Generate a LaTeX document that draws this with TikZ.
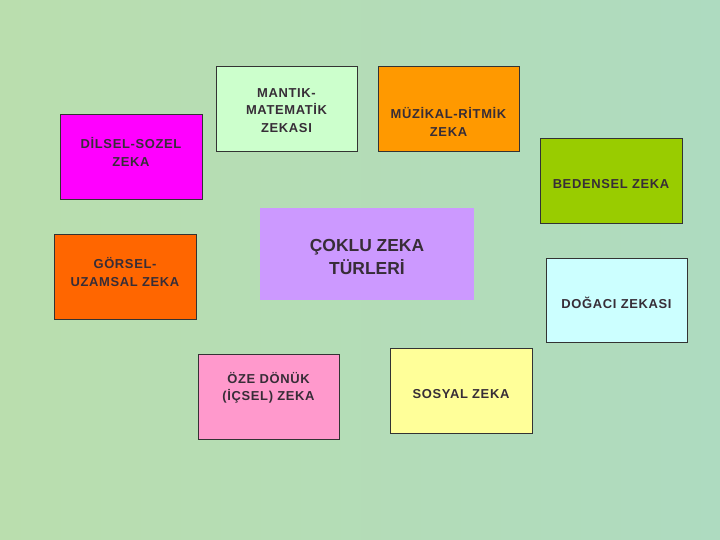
\documentclass[tikz,border=0pt]{standalone}
\usepackage{fontspec}
\setmainfont{Liberation Sans}
\newfontfamily\boxfont[LetterSpace=5]{Liberation Sans}
\definecolor{bgA}{RGB}{186,222,174}
\definecolor{bgB}{RGB}{174,219,192}
\definecolor{cMag}{RGB}{255,0,255}
\definecolor{cMant}{RGB}{204,255,204}
\definecolor{cMuz}{RGB}{255,153,0}
\definecolor{cBed}{RGB}{153,204,0}
\definecolor{cCok}{RGB}{204,153,255}
\definecolor{cGor}{RGB}{255,102,0}
\definecolor{cOze}{RGB}{255,153,204}
\definecolor{cSos}{RGB}{255,255,153}
\definecolor{cDog}{RGB}{204,255,255}
\definecolor{txt}{RGB}{55,45,55}
\begin{document}
\begin{tikzpicture}[x=1bp,y=-1bp,
  zbox/.style={draw=black!80,line width=0.8bp,text=txt,align=center,
    font=\boxfont\bfseries\fontsize{13}{17.5}\selectfont,inner sep=0pt},
  bigbox/.style={text=txt,align=center,font=\bfseries\fontsize{17.5}{23}\selectfont,inner sep=0pt}]
\shade[left color=bgA,right color=bgB] (0,0) rectangle (720,540);
\useasboundingbox (0,0) rectangle (720,540);
% boxes
\path[zbox,fill=cMag] (60,114) rectangle (202,199);
\node[zbox,draw=none] (dil) at (131,152) {DİLSEL-SOZEL\\ZEKA};
\path[zbox,fill=cMant] (216,66) rectangle (357,151);
\node[zbox,draw=none] (man) at (286.5,110.5) {MANTIK-\\MATEMATİK\\ZEKASI};
\path[zbox,fill=cMuz] (378,66) rectangle (519,151);
\node[zbox,draw=none] (muz) at (448.5,122) {MÜZİKAL-RİTMİK\\ZEKA};
\path[zbox,fill=cBed] (540,138) rectangle (682,223);
\node[zbox,draw=none] (bed) at (611,184) {BEDENSEL ZEKA};
\path[fill=cCok] (260,208) rectangle (474,300);
\node[bigbox] (cok) at (367,257) {ÇOKLU ZEKA\\TÜRLERİ};
\path[zbox,fill=cGor] (54,234) rectangle (196,319);
\node[zbox,draw=none] (gor) at (125,272) {GÖRSEL-\\UZAMSAL ZEKA};
\path[zbox,fill=cDog] (546,258) rectangle (687,342);
\node[zbox,draw=none] (dog) at (616.5,303) {DOĞACI ZEKASI};
\path[zbox,fill=cOze] (198,354) rectangle (339,439);
\node[zbox,draw=none] (oze) at (268.5,388) {ÖZE DÖNÜK\\(İÇSEL) ZEKA};
\path[zbox,fill=cSos] (390,348) rectangle (532,433);
\node[zbox,draw=none] (sos) at (461,394) {SOSYAL ZEKA};
\end{tikzpicture}
\end{document}
